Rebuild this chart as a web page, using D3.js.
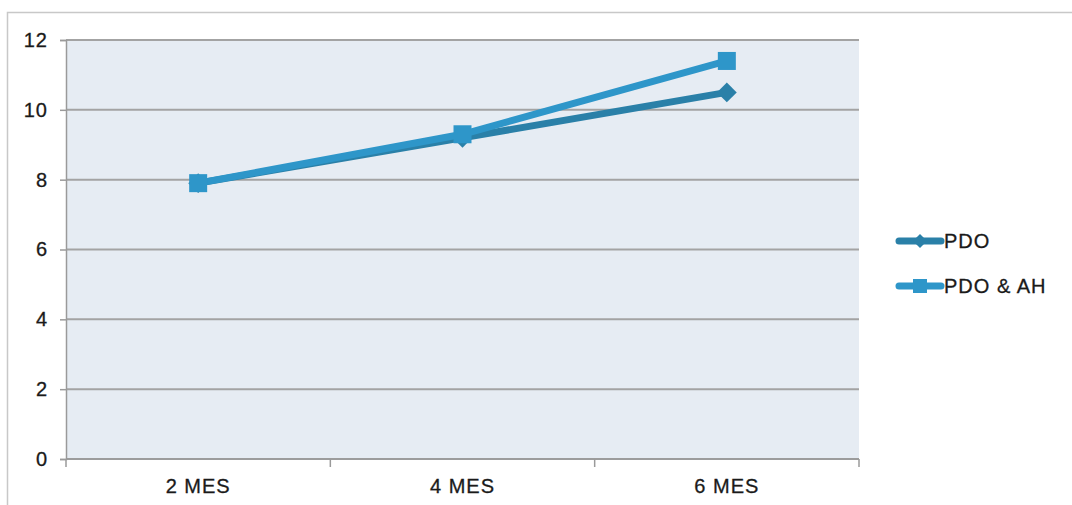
<!DOCTYPE html>
<html>
<head>
<meta charset="utf-8">
<script src="https://cdn.jsdelivr.net/npm/d3@7"></script>
<style>
  html, body { margin: 0; padding: 0; background: #fff; }
  svg { display: block; font-family: "Liberation Sans", Arial, Helvetica, sans-serif; }
  text { stroke: #1a1a1a; stroke-width: 0.3px; }
</style>
</head>
<body>
<svg id="chart" width="1072" height="505"></svg>
<script>
// Measurement months
const categories = ["2 MES", "4 MES", "6 MES"];
// Series values
const pdo = [7.9, 9.2, 10.5];
const pdoAh = [7.9, 9.3, 11.4];
const seriesNames = ["PDO", "PDO & AH"];
const yTicks = [0, 2, 4, 6, 8, 10, 12];

const svg = d3.select("#chart");
const margin = { left: 66, top: 40 };
const plotW = 859 - 66, plotH = 459 - 40;
const fontSize = 20, spacing = 1, textCol = "#1a1a1a";

// Outer frame
svg.append("rect")
  .attr("x", 7.5).attr("y", 12.5)
  .attr("width", 1080).attr("height", 520)
  .attr("fill", "#fff").attr("stroke", "#c8c8c8").attr("stroke-width", 1.5);

const g = svg.append("g").attr("transform", `translate(${margin.left},${margin.top})`);

const x = d3.scaleBand().domain(categories).range([0, plotW]).padding(0);
const y = d3.scaleLinear().domain([0, 12]).range([plotH, 0]);

// Plot background
g.append("rect").attr("width", plotW).attr("height", plotH).attr("fill", "#e6ecf3");

// Horizontal gridlines
g.selectAll(".grid").data(yTicks).join("line")
  .attr("x1", 0).attr("x2", plotW)
  .attr("y1", d => y(d)).attr("y2", d => y(d))
  .attr("stroke", "#a3a3a3").attr("stroke-width", 2);

// Y axis
const yAxis = g.append("g").call(d3.axisLeft(y).tickValues(yTicks).tickSize(6).tickPadding(12));
yAxis.select(".domain").attr("stroke", "#9a9a9a").attr("stroke-width", 1.5);
yAxis.selectAll(".tick line").attr("stroke", "#9a9a9a").attr("stroke-width", 1.5);
yAxis.selectAll("text").attr("font-size", fontSize).attr("fill", textCol)
  .attr("letter-spacing", spacing)
  .attr("font-family", "Liberation Sans, Arial, sans-serif");

// X axis with ticks on category boundaries
const xAxisG = g.append("g").attr("transform", `translate(0,${plotH})`);
xAxisG.append("line").attr("x1", 0).attr("x2", plotW)
  .attr("stroke", "#9a9a9a").attr("stroke-width", 1.5);
const bounds = categories.map(c => x(c)).concat([plotW]);
xAxisG.selectAll(".xt").data(bounds).join("line")
  .attr("x1", d => d).attr("x2", d => d).attr("y1", 0).attr("y2", 8)
  .attr("stroke", "#9a9a9a").attr("stroke-width", 1.5);
xAxisG.selectAll(".xl").data(categories).join("text")
  .attr("x", d => x(d) + x.bandwidth() / 2).attr("y", 34)
  .attr("text-anchor", "middle").attr("font-size", fontSize).attr("fill", textCol)
  .attr("letter-spacing", spacing)
  .text(d => d);

const cx = c => x(c) + x.bandwidth() / 2;
const line = d3.line().x((d, i) => cx(categories[i])).y(d => y(d));

const colPdo = "#2a80a8";
const colAh = "#2e96c9";

// PDO series (diamonds)
g.append("path").datum(pdo).attr("d", line)
  .attr("fill", "none").attr("stroke", colPdo).attr("stroke-width", 7).attr("stroke-linejoin", "round");
g.selectAll(".dia").data(pdo).join("path")
  .attr("transform", (d, i) => `translate(${cx(categories[i])},${y(d)}) rotate(45)`)
  .attr("d", "M-7,-7H7V7H-7Z").attr("fill", colPdo);

// PDO & AH series (squares)
g.append("path").datum(pdoAh).attr("d", line)
  .attr("fill", "none").attr("stroke", colAh).attr("stroke-width", 7).attr("stroke-linejoin", "round");
g.selectAll(".sq").data(pdoAh).join("rect")
  .attr("x", (d, i) => cx(categories[i]) - 9).attr("y", d => y(d) - 9)
  .attr("width", 18).attr("height", 18).attr("fill", colAh);

// Legend
const legend = svg.append("g").attr("transform", "translate(897,0)");
const legY = [241, 286];
[colPdo, colAh].forEach((col, i) => {
  const row = legend.append("g").attr("transform", `translate(0,${legY[i]})`);
  row.append("line").attr("x1", 2).attr("x2", 44).attr("y1", 0).attr("y2", 0)
    .attr("stroke", col).attr("stroke-width", 7).attr("stroke-linecap", "round");
  if (i === 0) {
    row.append("path").attr("transform", "translate(23,0) rotate(45)")
      .attr("d", "M-5,-5H5V5H-5Z").attr("fill", col);
  } else {
    row.append("rect").attr("x", 16).attr("y", -7).attr("width", 14).attr("height", 14).attr("fill", col);
  }
  row.append("text").attr("x", 47).attr("y", 7).attr("font-size", fontSize).attr("fill", textCol)
    .attr("letter-spacing", spacing)
    .text(seriesNames[i]);
});
</script>
</body>
</html>
